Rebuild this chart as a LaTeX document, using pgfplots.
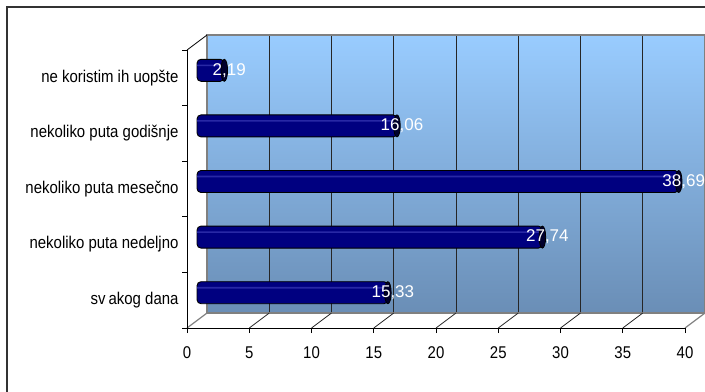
\documentclass[border=0pt]{standalone}
\usepackage{fontspec}
\setmainfont{Liberation Sans}
\newfontfamily\condf[FakeStretch=0.88]{Liberation Sans}
\usepackage{pgfplots}
\pgfplotsset{compat=1.18}

\definecolor{wallA}{RGB}{153,204,255}
\definecolor{wallB}{RGB}{106,142,182}
\definecolor{barnavy}{RGB}{0,0,128}
\definecolor{barlight}{RGB}{40,40,165}
\definecolor{capc}{RGB}{0,0,45}
\definecolor{edgegray}{RGB}{128,128,128}

\pgfplotstableread{
y  v
1  15.33
2  27.74
3  38.69
4  16.06
5  2.19
}\usage

\begin{document}
\begin{tikzpicture}[x=1bp,y=1bp]
\useasboundingbox (0,0) rectangle (705,391);

% outer frame
\draw[line width=1.4bp, black!80] (7,-10) -- (7,384) -- (720,384);

% back wall with vertical gridlines
\begin{axis}[
  at={(207bp,78bp)}, anchor=south west,
  width=498bp, height=278bp, scale only axis,
  xmin=0, xmax=40, ymin=0, ymax=1,
  xtick={5,10,...,35}, xticklabels={}, ytick=\empty,
  major tick length=0pt,
  xmajorgrids, grid style={black!85, line width=0.9bp},
  axis line style={draw=edgegray, line width=1.2bp},
  axis background/.style={shade, shading angle=30, top color=wallA, bottom color=wallB},
]
\addplot[draw=none] coordinates {(0,0)};
\end{axis}

% floor and side wall edges
\foreach \k in {1,...,7}
  \draw[black!85, line width=0.8bp] (187+12.45*5*\k,63) -- ++(20,15);
\draw[edgegray, line width=1.2bp] (187,63) -- ++(20,15);
\draw[edgegray, line width=1.2bp] (685,63) -- ++(20,15);
\draw[black, line width=0.8bp] (187,341) -- ++(20,15);

% front axis: ticks and labels
\begin{axis}[
  at={(187bp,63bp)}, anchor=south west,
  width=498bp, height=278bp, scale only axis,
  xmin=0, xmax=40, ymin=0.5, ymax=5.5,
  axis x line*=bottom, axis y line*=left,
  axis line style={-, black, line width=0.8bp},
  tick align=outside, major tick length=5bp,
  tick style={black, line width=0.8bp},
  xtick={0,5,...,40},
  ytick={0.5,1.5,...,5.5}, yticklabels={},
  extra y ticks={1,2,3,4,5},
  extra y tick labels={sv\kern3bp akog dana, nekoliko puta nedeljno, nekoliko puta mesečno, nekoliko puta godišnje, ne koristim ih uopšte},
  extra y tick style={tick style={draw=none}},
  /pgf/number format/assume math mode=true,
  xticklabel style={font=\condf\fontsize{17bp}{20bp}\selectfont, yshift=-10bp},
  yticklabel style={font=\condf\fontsize{17bp}{20bp}\selectfont},
]
\addplot[draw=none] coordinates {(0,1)};
\end{axis}

% bars in the middle depth plane
\begin{axis}[
  at={(197bp,70.5bp)}, anchor=south west,
  width=498bp, height=278bp, scale only axis,
  xmin=0, xmax=40, ymin=0.5, ymax=5.5,
  hide axis, clip=false,
  /pgf/number format/assume math mode=true,
]
% cylinder bodies
\addplot[xbar, bar width=22bp, draw=black, line width=0.9bp,
  fill=barnavy, rounded corners=4bp] table[x=v, y=y] {\usage};
% thin highlight along each cylinder
\addplot[xbar, bar width=1.6bp, bar shift=5bp, draw=none,
  fill=barlight] table[x=v, y=y] {\usage};
% end caps with the value labels
\addplot[only marks, mark=*, mark size=11bp,
  mark options={xscale=0.3, fill=capc, draw=black, line width=0.8bp},
  point meta=x,
  nodes near coords={\pgfmathprintnumber[fixed, fixed zerofill, precision=2, use comma]{\pgfplotspointmeta}},
  every node near coord/.append style={anchor=center, xshift=5bp, text=white,
    font=\fontsize{17bp}{20bp}\selectfont},
] table[x=v, y=y] {\usage};
\end{axis}
\end{tikzpicture}
\end{document}
